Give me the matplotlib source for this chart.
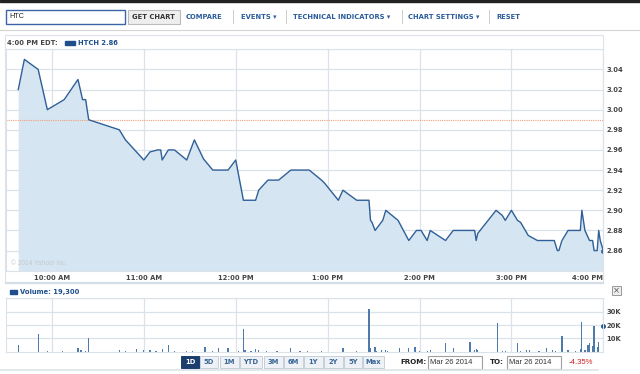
import matplotlib
matplotlib.use('Agg')
import matplotlib.pyplot as plt
from matplotlib.patches import Rectangle

# ── Data ─────────────────────────────────────────────────────────────────────
price_times = ["09:38", "09:42", "09:51", "09:57", "10:08", "10:17", "10:20", "10:22",
               "10:24", "10:44", "10:48", "10:54", "11:00", "11:04", "11:09", "11:11",
               "11:12", "11:16", "11:20", "11:28", "11:33", "11:39", "11:45", "11:55",
               "12:00", "12:05", "12:13", "12:15", "12:21", "12:28", "12:36", "12:48",
               "12:56", "12:58", "13:07", "13:10", "13:19", "13:27", "13:28", "13:29",
               "13:31", "13:36", "13:38", "13:46", "13:53", "13:58", "14:01", "14:05",
               "14:07", "14:17", "14:22", "14:36", "14:37", "14:38", "14:50", "14:54",
               "14:56", "15:00", "15:04", "15:06", "15:11", "15:17", "15:28", "15:30",
               "15:31", "15:33", "15:37", "15:45", "15:46", "15:48", "15:51", "15:53",
               "15:54", "15:56", "15:57", "15:58", "16:00"]
price_values = [3.02, 3.05, 3.04, 3.00, 3.01, 3.03, 3.01, 3.01,
                2.99, 2.98, 2.97, 2.96, 2.95, 2.958, 2.96, 2.96,
                2.95, 2.96, 2.96, 2.95, 2.97, 2.951, 2.94, 2.94,
                2.95, 2.91, 2.91, 2.92, 2.93, 2.93, 2.94, 2.94,
                2.93, 2.927, 2.91, 2.92, 2.91, 2.91, 2.89, 2.888,
                2.88, 2.89, 2.90, 2.89, 2.87, 2.88, 2.88, 2.87,
                2.88, 2.87, 2.88, 2.88, 2.87, 2.877, 2.90, 2.895,
                2.89, 2.90, 2.89, 2.888, 2.875, 2.87, 2.87, 2.86,
                2.86, 2.87, 2.88, 2.88, 2.90, 2.88, 2.87, 2.87,
                2.86, 2.86, 2.88, 2.87, 2.86]
prev_close = 2.99

volume_times = ["09:38", "09:51", "09:57", "10:07", "10:17", "10:19", "10:22", "10:24",
                "10:44", "10:48", "10:55", "11:00", "11:04", "11:08", "11:12", "11:16",
                "11:20", "11:28", "11:32", "11:40", "11:45", "11:49", "11:55", "12:02",
                "12:05", "12:06", "12:10", "12:13", "12:15", "12:20", "12:27", "12:36",
                "12:42", "12:47", "12:56", "13:10", "13:19", "13:27", "13:28", "13:31",
                "13:32", "13:35", "13:38", "13:39", "13:47", "13:53", "13:57", "14:00",
                "14:05", "14:07", "14:17", "14:22", "14:33", "14:36", "14:37", "14:38",
                "14:51", "14:54", "14:56", "15:04", "15:06", "15:10", "15:12", "15:18",
                "15:23", "15:27", "15:29", "15:33", "15:37", "15:42", "15:45", "15:46",
                "15:48", "15:50", "15:51", "15:53", "15:54", "15:56", "15:57", "16:00"]
volume_k = [5.0, 13.0, 0.5, 0.3, 3.0, 1.0, 0.8, 10.5,
            1.0, 0.5, 2.0, 1.0, 1.0, 0.5, 2.0, 5.0,
            0.5, 0.7, 0.3, 3.3, 0.5, 2.5, 2.5, 0.5,
            17.0, 1.5, 0.5, 2.0, 1.0, 0.5, 0.3, 2.5,
            0.5, 0.3, 0.3, 2.5, 0.3, 32.0, 3.0, 3.5,
            0.5, 1.5, 1.5, 0.8, 3.0, 3.0, 3.7, 0.5,
            0.5, 1.3, 6.2, 2.7, 7.0, 1.5, 2.0, 1.5,
            21.3, 0.7, 0.5, 6.2, 0.5, 1.0, 1.0, 0.5,
            2.5, 1.5, 0.5, 11.5, 1.5, 0.5, 2.0, 22.5,
            1.0, 5.0, 6.5, 4.0, 19.5, 3.5, 7.5, 19.3]

hour_ticks = ["10:00", "11:00", "12:00", "13:00", "14:00", "15:00", "16:00"]
hour_labels = ["10:00 AM", "11:00 AM", "12:00 PM", "1:00 PM", "2:00 PM", "3:00 PM", "4:00 PM"]
price_ticks = [2.86, 2.88, 2.90, 2.92, 2.94, 2.96, 2.98, 3.00, 3.02, 3.04]
volume_ticks = [10, 20, 30]
range_buttons = ["1D", "5D", "1M", "YTD", "3M", "6M", "1Y", "2Y", "5Y", "Max"]


def to_min(s):
    """minutes since the 9:30 open"""
    h, m = s.split(":")
    return (int(h) - 9) * 60 + int(m) - 30


px = [to_min(t) for t in price_times]
vx = [to_min(t) for t in volume_times]
hx = [to_min(t) for t in hour_ticks]

W, H = 640, 374
LINE = '#2f5f98'
FILL = '#d5e5f1'
GRID = '#dbe3ea'
TXT = '#444444'
LINK = '#2b5c9a'
BOLD = dict(fontweight='bold', family='DejaVu Sans')
FS = 4.9

fig = plt.figure(figsize=(W / 100, H / 100), dpi=100)


def px_axes(x0, y0, x1, y1):
    return fig.add_axes([x0 / W, 1 - y1 / H, (x1 - x0) / W, (y1 - y0) / H])


# ── page chrome drawn in pixel coords ────────────────────────────────────────
bg = fig.add_axes([0, 0, 1, 1])
bg.set_xlim(0, W)
bg.set_ylim(H, 0)
bg.axis('off')

bg.add_patch(Rectangle((0, 0), W, 1.6, color='#222222'))
bg.plot([0, W], [30, 30], color='#d4d4d4', lw=0.8)

# toolbar
bg.add_patch(Rectangle((6, 9.5), 119, 14, fc='white', ec='#3c64a8', lw=1))
bg.text(9, 16.5, "HTC", ha='left', va='center', fontsize=5.2, color='#222222',
        family='Liberation Sans')
bg.add_patch(Rectangle((127.5, 9.5), 52, 14, fc='#eeeeee', ec='#bbbbbb', lw=0.8))
bg.text(153.5, 16.5, "GET CHART", ha='center', va='center', fontsize=FS, color='#333333', **BOLD)
for x, lab in [(186, "COMPARE"), (241, "EVENTS \u25be"), (293, "TECHNICAL INDICATORS \u25be"),
               (408, "CHART SETTINGS \u25be"), (496, "RESET")]:
    bg.text(x, 16.5, lab, ha='left', va='center', fontsize=FS, color=LINK, **BOLD)
for x in [233, 286, 402, 489]:
    bg.plot([x, x], [10, 23], color='#cccccc', lw=0.7)

# price panel frame + header
bg.add_patch(Rectangle((5, 35), 598, 248, fc='white', ec='#dde3e9', lw=0.8))
bg.text(7, 42.5, "4:00 PM EDT:", ha='left', va='center', fontsize=FS, color=TXT, **BOLD)
bg.add_patch(Rectangle((65, 41), 10, 3.5, color='#1e4f8c'))
bg.text(78, 42.5, "HTCH 2.86", ha='left', va='center', fontsize=FS, color='#1e4f8c', **BOLD)
bg.plot([6, 603], [283, 283], color='#d5dee7', lw=1.6)

# volume header + close box
bg.add_patch(Rectangle((10, 290), 7, 3.5, color='#1e4f8c'))
bg.text(20, 291.7, "Volume: 19,300", ha='left', va='center', fontsize=FS, color='#1e4f8c', **BOLD)
bg.add_patch(Rectangle((612, 286), 9, 9, fc='#eeeeee', ec='#999999', lw=0.7))
bg.text(616.5, 290.5, "\u00d7", ha='center', va='center', fontsize=6, color='#555555')

# range buttons
btn_x = [181, 200, 220, 240, 264, 284, 304, 324, 344, 363]
btn_w = [18, 18, 19, 22, 19, 19, 19, 19, 18, 21]
for lab, x, w in zip(range_buttons, btn_x, btn_w):
    sel = lab == "1D"
    bg.add_patch(Rectangle((x, 356), w, 11.5, fc='#1c3e6e' if sel else '#eef2f6',
                           ec='#1c3e6e' if sel else '#c6d0da', lw=0.7))
    bg.text(x + w / 2, 362, lab, ha='center', va='center', fontsize=FS,
            color='white' if sel else '#3a6597', **BOLD)

bg.text(400, 362, "FROM:", ha='left', va='center', fontsize=5.1, color='#222222', **BOLD)
bg.add_patch(Rectangle((428, 355.5), 54, 13, fc='white', ec='#a0a0a0', lw=0.8))
bg.text(430, 362, "Mar 26 2014", ha='left', va='center', fontsize=5.4, color='#333333',
        family='Liberation Sans')
bg.text(490, 362, "TO:", ha='left', va='center', fontsize=5.1, color='#222222', **BOLD)
bg.add_patch(Rectangle((507, 355.5), 54, 13, fc='white', ec='#a0a0a0', lw=0.8))
bg.text(509, 362, "Mar 26 2014", ha='left', va='center', fontsize=5.4, color='#333333',
        family='Liberation Sans')
bg.text(569, 362, "-4.35%", ha='left', va='center', fontsize=5.6, color='#d42020',
        family='Liberation Sans')
bg.plot([0, 598], [370, 370], color='#dde3e9', lw=1.2)

# ── price chart ──────────────────────────────────────────────────────────────
ax = px_axes(6, 49.3, 603.3, 270.7)
ax.fill_between(px, price_values, 2.84, color=FILL, lw=0)
ax.plot(px, price_values, color=LINE, lw=1)
ax.plot(px[-1], price_values[-1], 'o', color=LINE, ms=2.5)
ax.axhline(prev_close, color='#f2a07e', lw=0.8, ls=(0, (1, 1)), zorder=1)
ax.set_xlim(0, 390)
ax.set_ylim(2.84, 3.06)
ax.set_yticks([2.84] + price_ticks + [3.06])
ax.set_yticklabels([""] + [f"{v:.2f}" for v in price_ticks] + [""])
ax.yaxis.tick_right()
ax.set_xticks(hx)
ax.set_xticklabels(hour_labels)
ax.get_xticklabels()[-1].set_ha('right')
ax.tick_params(length=0, labelsize=FS, labelcolor=TXT, pad=2.5)
ax.tick_params(axis='x', pad=3)
for lab in ax.get_xticklabels() + ax.get_yticklabels():
    lab.set_fontweight('bold')
    lab.set_family('DejaVu Sans')
ax.grid(True, color=GRID, lw=0.9, zorder=0)
ax.set_axisbelow(True)
for s in ax.spines.values():
    s.set_color(GRID)
    s.set_linewidth(0.8)
ax.text(3, 2.8455, "\u00a9 2014 Yahoo! Inc.", fontsize=4.8, color='#c4cbd2',
        family='Liberation Sans')

# ── volume chart ─────────────────────────────────────────────────────────────
vax = px_axes(6, 298.3, 603.3, 351.7)
vax.bar(vx, volume_k, width=0.8, color='#4d7aab', lw=0)
vax.plot(vx[-1], volume_k[-1], 'o', color='#1e4f8c', ms=2.5, clip_on=False)
vax.set_xlim(0, 390)
vax.set_ylim(0, 40)
vax.set_yticks(volume_ticks + [40])
vax.set_yticklabels([f"{v}K" for v in volume_ticks] + [""])
vax.yaxis.tick_right()
vax.set_xticks(hx)
vax.set_xticklabels([])
vax.tick_params(length=0, labelsize=FS, labelcolor=TXT, pad=2.5)
for lab in vax.get_yticklabels():
    lab.set_fontweight('bold')
    lab.set_family('DejaVu Sans')
vax.grid(True, color=GRID, lw=0.9, zorder=0)
vax.set_axisbelow(True)
for s in vax.spines.values():
    s.set_color(GRID)
    s.set_linewidth(0.8)

fig.savefig('out.png', dpi=100)
